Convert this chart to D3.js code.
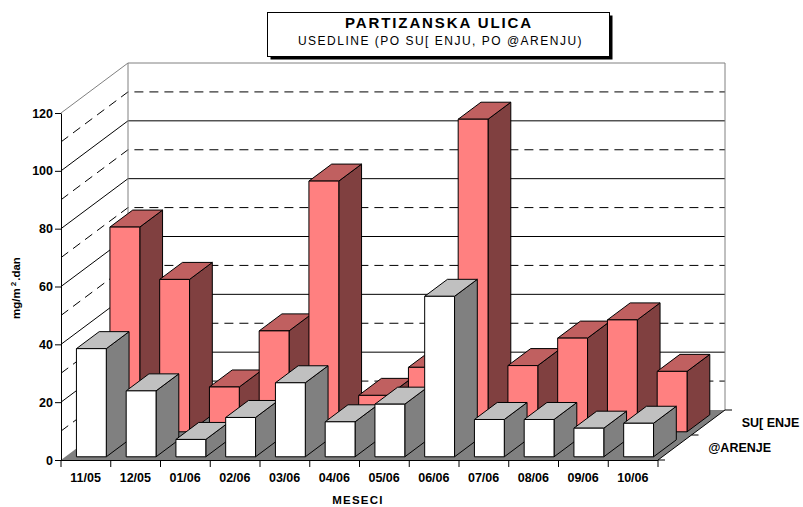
<!DOCTYPE html>
<html>
<head>
<meta charset="utf-8">
<script src="https://cdnjs.cloudflare.com/ajax/libs/d3/7.8.5/d3.min.js"></script>
<style>
  html, body { margin: 0; padding: 0; background: #fff; }
  svg { display: block; }
  text { font-family: "Liberation Sans", Arial, sans-serif; fill: #000; }
  .axis text { font-size: 12.5px; font-weight: bold; }
</style>
</head>
<body>
<svg></svg>
<script>
var months = ['11/05', '12/05', '01/06', '02/06', '03/06', '04/06', '05/06', '06/06', '07/06', '08/06', '09/06', '10/06'];
var seriesNames = ['@ARENJE', 'SU[ ENJE'];
var zarenje = [37.4, 22.8, 6, 13.6, 25.6, 12.1, 18.2, 55.5, 12.9, 12.9, 9.9, 11.6];
var susenje = [70.8, 52.7, 15.5, 34.9, 86.7, 12.6, 22.3, 108.1, 22.9, 32.4, 38.7, 20.9];
var yMajor = [0, 20, 40, 60, 80, 100, 120];
var yMinor = [10, 30, 50, 70, 90, 110];

var width = 803;
var height = 507;
var svg = d3.select('svg')
  .attr('width', width)
  .attr('height', height);

// front plane of the box, depth is sheared up and to the right
var depthX = 67;
var depthY = -50;

var x = d3.scaleBand().domain(months).range([61, 658]).paddingInner(0.4).paddingOuter(0.2).align(0.56);
var y = d3.scaleLinear().domain([0, 120]).range([460, 113]);
var z = d3.scaleBand().domain(seriesNames).range([0, 1]).paddingInner(0.32).paddingOuter(0.16).align(0.4);

function project(px, py, depth) {
  return [px + depth * depthX, py + depth * depthY];
}
var xLeft = x.range()[0];
var xRight = x.range()[1];

var box = svg.append('g');

function face(g, points, fill) {
  g.append('polygon')
    .attr('points', points.map(p => p.join(',')).join(' '))
    .attr('fill', fill)
    .attr('stroke', '#000')
    .attr('stroke-width', 1)
    .attr('stroke-linejoin', 'round');
}

function wallLines(values, dash) {
  values.forEach(function(v) {
    if (v === 0) return;
    var a = project(xLeft, y(v), 0);
    var b = project(xLeft, y(v), 1);
    var c = project(xRight, y(v), 1);
    box.append('path')
      .attr('d', d3.line()([a, b, c]))
      .attr('fill', 'none')
      .attr('stroke', '#000')
      .attr('stroke-width', 1)
      .attr('stroke-dasharray', dash);
  });
}
wallLines(yMinor, '9,6');
wallLines(yMajor.slice(0, -1), null);

// wall outline
box.append('path')
  .attr('d', d3.line()([
    project(xLeft, y(120), 0),
    project(xLeft, y(120), 1),
    project(xRight, y(120), 1),
    project(xRight, y(0), 1)
  ]))
  .attr('fill', 'none')
  .attr('stroke', '#808080')
  .attr('stroke-width', 1);
box.append('path')
  .attr('d', d3.line()([project(xLeft, y(120), 1), project(xLeft, y(0), 1)]))
  .attr('fill', 'none')
  .attr('stroke', '#808080')
  .attr('stroke-width', 1);

// floor
box.append('polygon')
  .attr('points', [
    project(xLeft, y(0), 0),
    project(xRight, y(0), 0),
    project(xRight, y(0), 1),
    project(xLeft, y(0), 1)
  ].map(p => p.join(',')).join(' '))
  .attr('fill', '#808080');

function drawBars(name, values, front, topFill, sideFill) {
  var z0 = z(name);
  var z1 = z0 + z.bandwidth();
  var g = svg.append('g');
  months.forEach(function(m, i) {
    var l = x(m);
    var r = l + x.bandwidth();
    var t = y(values[i]);
    var b = y(0);
    face(g, [project(r, t, z0), project(r, t, z1), project(r, b, z1), project(r, b, z0)], sideFill);
    face(g, [project(l, t, z0), project(l, t, z1), project(r, t, z1), project(r, t, z0)], topFill);
    face(g, [project(l, t, z0), project(r, t, z0), project(r, b, z0), project(l, b, z0)], front);
  });
}
drawBars('SU[ ENJE', susenje, '#ff8080', '#c06060', '#804040');
drawBars('@ARENJE', zarenje, '#ffffff', '#c0c0c0', '#808080');

// axes
var yAxis = svg.append('g')
  .attr('class', 'axis')
  .attr('transform', `translate(${xLeft}, 0)`)
  .call(d3.axisLeft(y).tickValues(yMajor).tickSize(6).tickPadding(2).tickSizeOuter(0));
var xAxis = svg.append('g')
  .attr('class', 'axis')
  .attr('transform', `translate(0, ${y(0)})`)
  .call(d3.axisBottom(x).tickSize(0).tickPadding(13));
xAxis.selectAll('.tick line').remove();
xAxis.selectAll('.tick text').attr('dx', -1.5);
xAxis.select('.domain').attr('d', d3.line()([[xLeft, 0.5], [xRight, 0.5]]));
// ticks sit between the categories
xAxis.selectAll('.edge')
  .data(months.concat(['end']))
  .enter()
  .append('line')
    .attr('x1', (d, i) => xLeft + i * x.step())
    .attr('x2', (d, i) => xLeft + i * x.step())
    .attr('y1', 0)
    .attr('y2', 7)
    .attr('stroke', '#000');
svg.selectAll('.axis .domain, .axis line').attr('stroke', '#000');

// depth axis
var zAxis = svg.append('g').attr('class', 'axis');
[0, 0.5, 1].forEach(function(d) {
  var p = project(xRight, y(0), d);
  zAxis.append('line')
    .attr('x1', p[0]).attr('y1', p[1])
    .attr('x2', p[0] + 7).attr('y2', p[1])
    .attr('stroke', '#000');
});
zAxis.append('path')
  .attr('d', d3.line()([project(xRight, y(0), 0), project(xRight, y(0), 1)]))
  .attr('stroke', '#000')
  .attr('fill', 'none');
zAxis.selectAll('text')
  .data(seriesNames)
  .enter()
  .append('text')
    .attr('x', d => project(xRight, y(0), z(d) + z.bandwidth() / 2)[0] + 34.5)
    .attr('y', d => project(xRight, y(0), z(d) + z.bandwidth() / 2)[1] + 4)
    .text(d => d);

// axis titles
var yTitle = svg.append('text')
  .attr('transform', 'translate(20, 288) rotate(-90)')
  .attr('text-anchor', 'middle')
  .style('font-size', '11.5px')
  .style('font-weight', 'bold');
yTitle.append('tspan').text('mg/m');
yTitle.append('tspan').attr('dy', -4).attr('dx', 2).style('font-size', '8px').text('2');
yTitle.append('tspan').attr('dy', 4).attr('dx', 1).text('.dan');

svg.append('text')
  .attr('x', 358)
  .attr('y', 504)
  .attr('text-anchor', 'middle')
  .style('font-size', '11.5px')
  .style('font-weight', 'bold')
  .style('letter-spacing', '1.2px')
  .text('MESECI');

// title box
svg.append('rect')
  .attr('x', 270.5).attr('y', 15.5)
  .attr('width', 342).attr('height', 44)
  .attr('fill', '#000');
svg.append('rect')
  .attr('x', 267.5).attr('y', 12.5)
  .attr('width', 342).attr('height', 44)
  .attr('fill', '#fff')
  .attr('stroke', '#000');
svg.append('text')
  .attr('x', 439).attr('y', 28)
  .attr('text-anchor', 'middle')
  .style('font-size', '15px')
  .style('font-weight', 'bold')
  .style('letter-spacing', '1.9px')
  .text('PARTIZANSKA ULICA');
svg.append('text')
  .attr('x', 440.5).attr('y', 45)
  .attr('text-anchor', 'middle')
  .style('font-size', '12px')
  .style('letter-spacing', '1.5px')
  .text('USEDLINE (PO SU[ ENJU, PO @ARENJU)');
</script>
</body>
</html>
